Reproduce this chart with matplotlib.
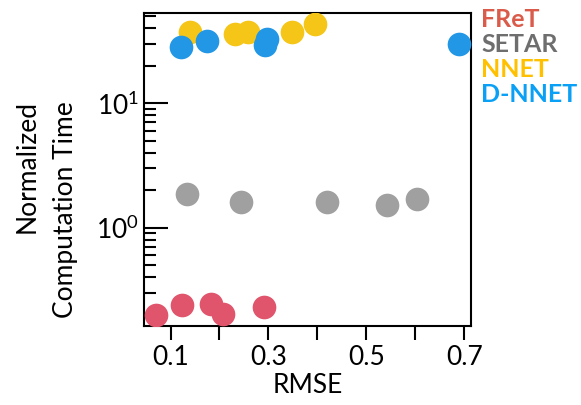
import matplotlib
matplotlib.use("Agg")
import matplotlib.pyplot as plt
import numpy as np

plt.rcParams['font.family'] = ['Lato', 'DejaVu Sans']
plt.rcParams['mathtext.fontset'] = 'custom'
plt.rcParams['mathtext.rm'] = 'Lato'

# data
fret_rmse = [0.071, 0.123, 0.183, 0.208, 0.290]
fret_time = [0.199, 0.238, 0.242, 0.202, 0.232]

setar_rmse = [0.134, 0.244, 0.420, 0.543, 0.604]
setar_time = [1.86, 1.61, 1.62, 1.52, 1.71]

nnet_rmse = [0.139, 0.231, 0.258, 0.348, 0.395]
nnet_time = [37.6, 35.9, 37.6, 37.4, 43.4]

dnnet_rmse = [0.122, 0.175, 0.297, 0.293, 0.689]
dnnet_time = [28.2, 31.7, 32.9, 29.4, 30.1]

x_ticks = [0.1, 0.2, 0.3, 0.4, 0.5, 0.6, 0.7]
x_labels = ['0.1', '', '0.3', '', '0.5', '', '0.7']

fig = plt.figure(figsize=(5.81, 4.05), dpi=100)
ax = fig.add_axes([0.248, 0.195, 0.563, 0.773])

ms = 290
ax.scatter(fret_rmse, fret_time, s=ms, color='#E0546C', zorder=3, linewidths=0)
ax.scatter(setar_rmse, setar_time, s=ms, color='#A0A0A0', zorder=3, linewidths=0)
ax.scatter(nnet_rmse, nnet_time, s=ms, color='#F5C518', zorder=3, linewidths=0)
ax.scatter(dnnet_rmse, dnnet_time, s=ms, color='#2297E6', zorder=4, linewidths=0)

ax.set_yscale('log')
ax.set_xlim(0.046, 0.714)
ax.set_ylim(0.162, 53)
ax.set_xticks(x_ticks)
ax.set_xticklabels(x_labels)

for sp in ax.spines.values():
    sp.set_linewidth(1.5)
ax.tick_params(axis='x', direction='out', length=10, width=1.5, labelsize=19, pad=4)
ax.tick_params(axis='y', which='major', direction='in', length=17, width=1.5, labelsize=19)
ax.tick_params(axis='y', which='minor', direction='in', length=8.5, width=1.5)

ax.set_xlabel('RMSE', fontsize=19, labelpad=2)
fig.text(0.047, 0.588, 'Normalized', rotation=90, fontsize=19, ha='center', va='center')
fig.text(0.112, 0.482, 'Computation Time', rotation=90, fontsize=19, ha='center', va='center')

legend_names = ['FReT', 'SETAR', 'NNET', 'D-NNET']
legend_colors = ['#DA5B4A', '#6E6E6E', '#FFC000', '#0AA0F5']
for i, (name, c) in enumerate(zip(legend_names, legend_colors)):
    fig.text(0.828, 0.951 - i * 0.0615, name, color=c, fontsize=18, fontweight='bold',
             ha='left', va='center')

fig.savefig('out.png', dpi=100)
